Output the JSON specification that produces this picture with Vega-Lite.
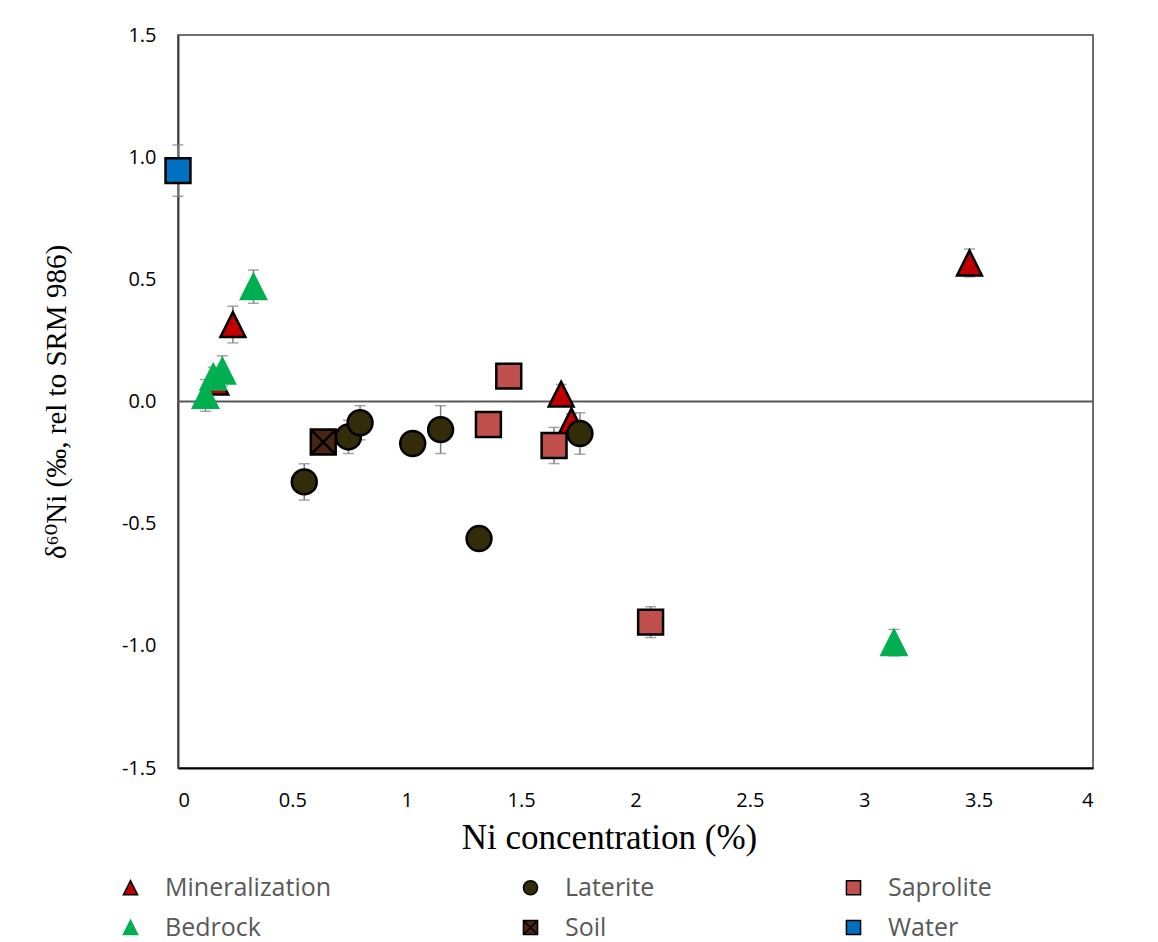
{
  "$schema": "https://vega.github.io/schema/vega-lite/v6.json",
  "width": 915,
  "height": 733,
  "autosize": {"type": "none"},
  "padding": {"left": 178, "top": 35, "right": 65, "bottom": 174},
  "background": "white",
  "config": {
    "view": {"stroke": "#404040", "strokeWidth": 1.5},
    "axis": {
      "grid": false,
      "ticks": false,
      "labelFont": "Open Sans",
      "labelFontSize": 20,
      "labelColor": "#000000",
      "titleFont": "Liberation Serif, DejaVu Serif",
      "titleFontWeight": "normal",
      "titleColor": "#000000"
    },
    "legend": {
      "orient": "none",
      "legendX": -60,
      "legendY": 840,
      "columns": 3,
      "columnPadding": 186,
      "rowPadding": 14,
      "labelFont": "Open Sans",
      "labelFontSize": 25,
      "labelLimit": 400,
      "labelColor": "#595959",
      "labelOffset": 22,
      "symbolSize": 200,
      "symbolStrokeWidth": 1.5,
      "title": null
    }
  },
  "data": {
    "values": [
      {"g": "Mineralization", "ni": 0.165, "d": 0.08, "err": null},
      {"g": "Mineralization", "ni": 0.24, "d": 0.315, "err": 0.075},
      {"g": "Mineralization", "ni": 1.675, "d": 0.03, "err": 0.04},
      {"g": "Mineralization", "ni": 1.72, "d": -0.08, "err": 0.03},
      {"g": "Mineralization", "ni": 3.46, "d": 0.567, "err": 0.057},
      {"g": "Laterite", "ni": 0.552, "d": -0.329, "err": 0.074},
      {"g": "Laterite", "ni": 0.745, "d": -0.145, "err": 0.068},
      {"g": "Laterite", "ni": 0.796, "d": -0.087, "err": 0.07},
      {"g": "Laterite", "ni": 1.026, "d": -0.172, "err": 0.03},
      {"g": "Laterite", "ni": 1.148, "d": -0.115, "err": 0.098},
      {"g": "Laterite", "ni": 1.316, "d": -0.561, "err": 0.03},
      {"g": "Laterite", "ni": 1.757, "d": -0.131, "err": 0.085},
      {"g": "Saprolite", "ni": 1.357, "d": -0.094, "err": 0.03},
      {"g": "Saprolite", "ni": 1.446, "d": 0.104, "err": 0.03},
      {"g": "Saprolite", "ni": 1.644, "d": -0.18, "err": 0.074},
      {"g": "Saprolite", "ni": 2.066, "d": -0.903, "err": 0.063},
      {"g": "Bedrock", "ni": 0.12, "d": 0.025, "err": 0.065},
      {"g": "Bedrock", "ni": 0.154, "d": 0.1, "err": 0.04},
      {"g": "Bedrock", "ni": 0.194, "d": 0.125, "err": 0.062},
      {"g": "Bedrock", "ni": 0.33, "d": 0.47, "err": 0.068},
      {"g": "Bedrock", "ni": 3.13, "d": -0.987, "err": 0.054},
      {"g": "Soil", "ni": 0.635, "d": -0.166, "err": null},
      {"g": "Water", "ni": 0.0, "d": 0.945, "err": 0.105}
    ]
  },
  "layer": [
    {
      "data": {"values": [{"d": 0}]},
      "mark": {"type": "rule", "color": "#595959", "strokeWidth": 2},
      "encoding": {"y": {"field": "d", "type": "quantitative", "title": "δ⁶⁰Ni (‰, rel to SRM 986)"}}
    },
    {
      "transform": [{"filter": "datum.err != null"}],
      "mark": {
        "type": "errorbar",
        "color": "#7f7f7f",
        "thickness": 1.5,
        "ticks": {"size": 11, "thickness": 1.5, "color": "#7f7f7f"}
      },
      "encoding": {
        "x": {"field": "ni", "type": "quantitative", "title": "Ni concentration (%)"},
        "y": {"field": "d", "type": "quantitative", "title": "δ⁶⁰Ni (‰, rel to SRM 986)"},
        "yError": {"field": "err"}
      }
    },
    {
      "mark": {"type": "point", "filled": true, "size": 620, "strokeWidth": 2.5, "opacity": 1},
      "encoding": {
        "x": {
          "field": "ni",
          "type": "quantitative",
          "title": "Ni concentration (%)",
          "scale": {"domain": [0, 4], "nice": false, "zero": false},
          "axis": {
            "values": [0, 0.5, 1, 1.5, 2, 2.5, 3, 3.5, 4],
            "format": ".1~f",
            "labelPadding": 22,
            "titlePadding": 10,
            "titleFontSize": 35,
            "titleX": 431,
            "titleAlign": "center",
            "domainColor": "#000000",
            "domainWidth": 2
          }
        },
        "y": {
          "field": "d",
          "type": "quantitative",
          "title": "δ⁶⁰Ni (‰, rel to SRM 986)",
          "scale": {"domain": [-1.5, 1.5], "nice": false, "zero": false},
          "axis": {
            "values": [-1.5, -1, -0.5, 0, 0.5, 1, 1.5],
            "labelExpr": "replace(format(datum.value, '.1f'), '\u2212', '-')",
            "labelPadding": 22,
            "titlePadding": 50,
            "titleFontSize": 29,
            "domainColor": "#404040",
            "domainWidth": 2
          }
        },
        "shape": {
          "field": "g",
          "type": "nominal",
          "scale": {
            "domain": ["Mineralization", "Bedrock", "Laterite", "Soil", "Saprolite", "Water"],
            "range": ["M0,-1L1,1L-1,1Z", "M0,-1L1,1L-1,1Z", "circle", "M-1,-1H1V1H-1ZM-1,-1L1,1M1,-1L-1,1", "square", "square"]
          }
        },
        "fill": {
          "field": "g",
          "type": "nominal",
          "scale": {
            "domain": ["Mineralization", "Bedrock", "Laterite", "Soil", "Saprolite", "Water"],
            "range": ["#C00000", "#00B050", "#332C0A", "#4A2512", "#C0504D", "#0070C0"]
          }
        },
        "stroke": {
          "field": "g",
          "type": "nominal",
          "scale": {
            "domain": ["Mineralization", "Bedrock", "Laterite", "Soil", "Saprolite", "Water"],
            "range": ["#000000", "#00B050", "#000000", "#000000", "#000000", "#000000"]
          }
        }
      }
    }
  ]
}
